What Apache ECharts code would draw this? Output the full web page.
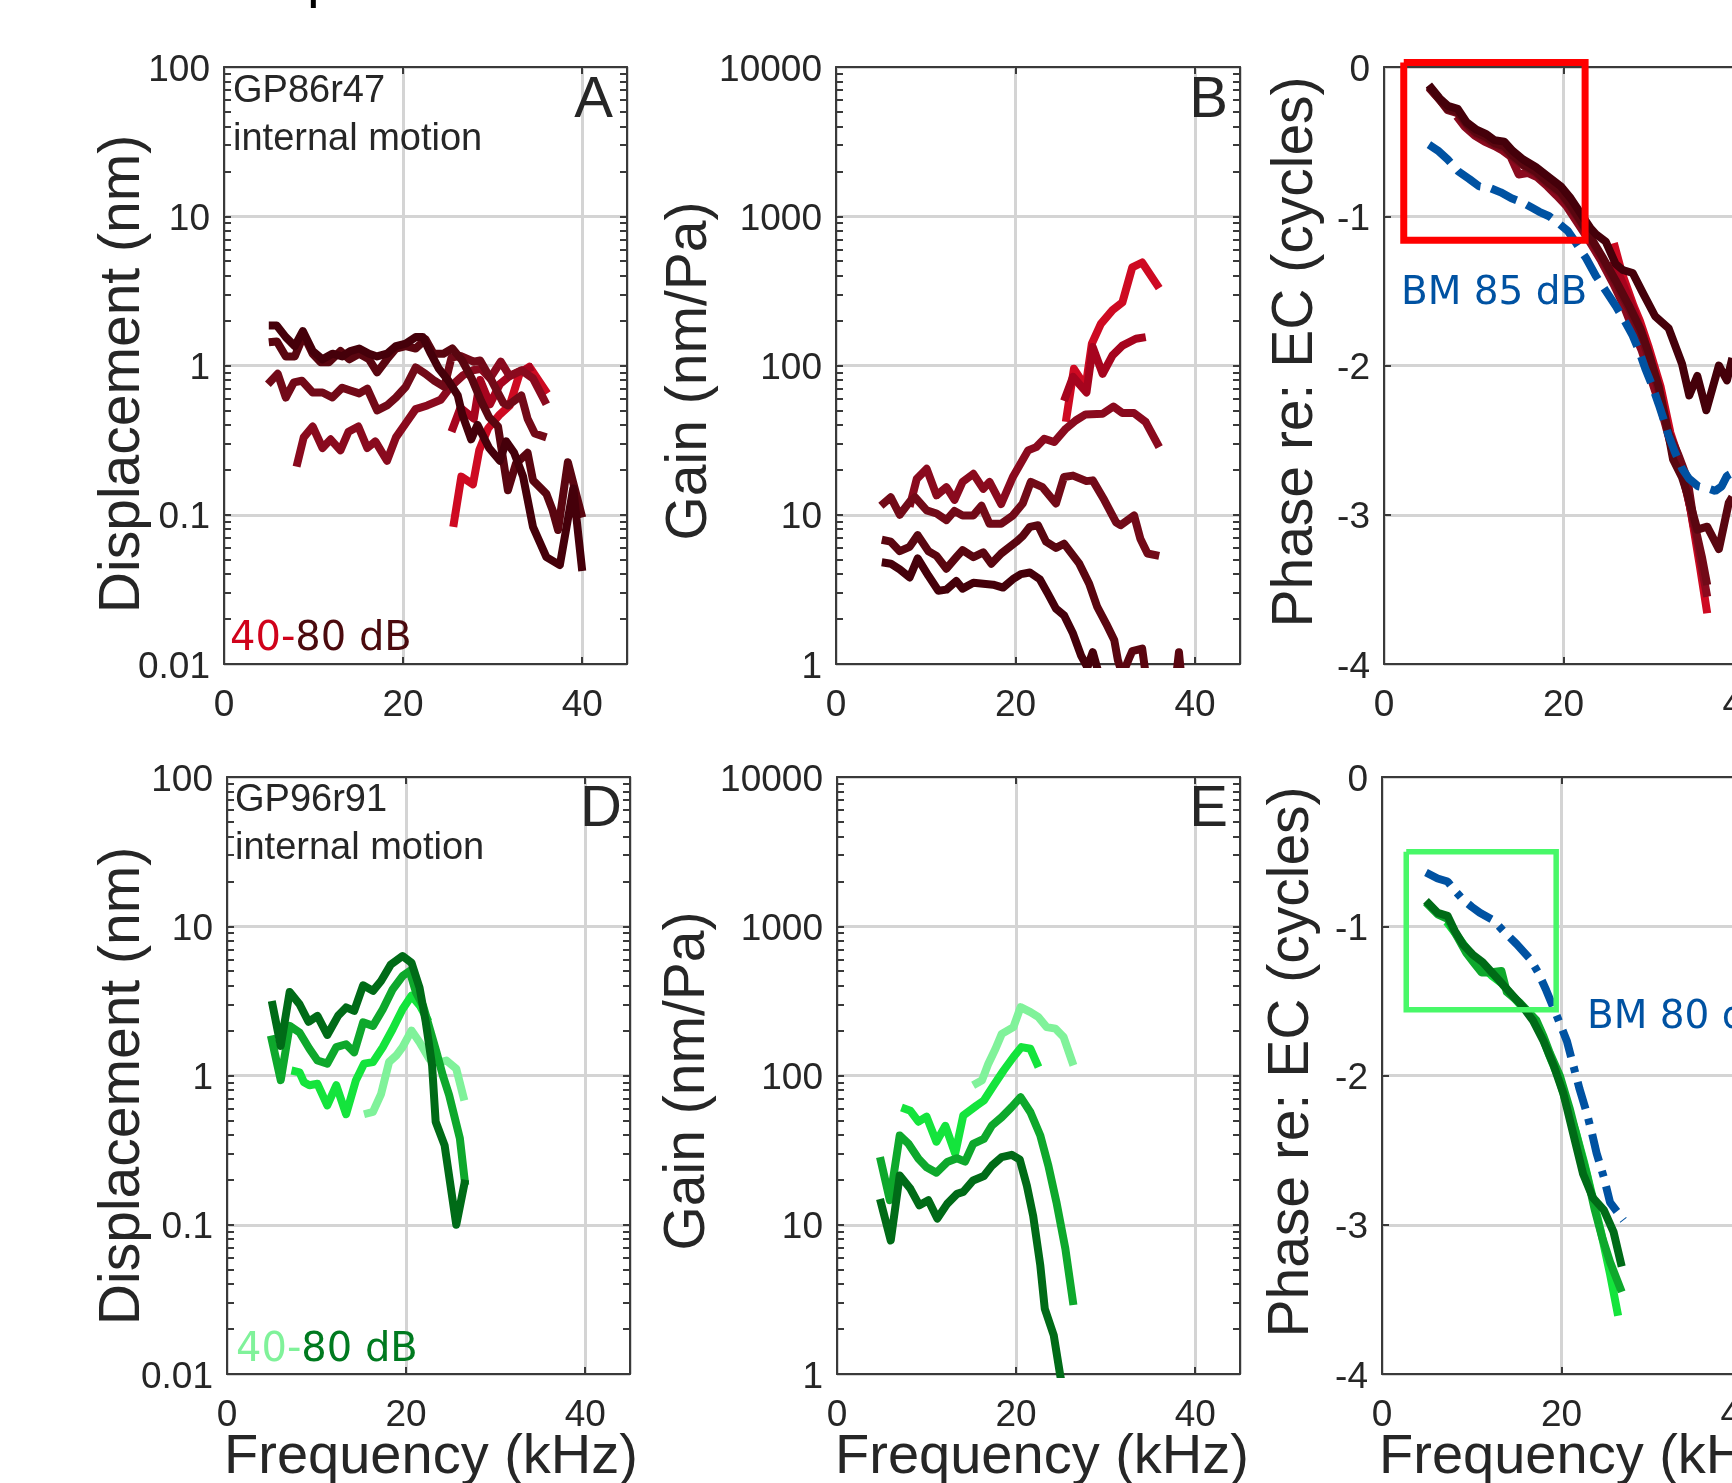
<!DOCTYPE html>
<html>
<head>
<meta charset="utf-8">
<title>Internal motion, gain and phase</title>
<script src="https://cdn.jsdelivr.net/npm/echarts@6/dist/echarts.min.js"></script>
<style>
  html, body { margin: 0; padding: 0; background: #ffffff; overflow: hidden; }
  /* the right-hand phase panels run past the page edge */
  #chart { width: 1800px; height: 1483px; }
</style>
</head>
<body>
<div id="chart"></div>
<script>
// ---------- tick labels ----------
const freqTicks = [0, 20, 40];
const dispTickLabels = ['0.01', '0.1', '1', '10', '100'];
const gainTickLabels = ['1', '10', '100', '1000', '10000'];
const phaseTickLabels = ['-4', '-3', '-2', '-1', '0'];

// ---------- GP86r47 : displacement (nm) vs frequency (kHz), lowest to highest level ----------
const dispA1 = [[25.6,0.083],[26.5,0.18],[27.8,0.16],[28.5,0.27],[29.5,0.38],[30.8,0.47],[31.9,0.54],[33.0,0.88],[34.1,0.98],[36.1,0.65]];
const dispA2 = [[25.4,0.36],[26.4,0.52],[27.9,0.44],[28.6,0.8],[29.7,0.55],[30.8,0.75],[31.9,0.85],[33.4,0.93],[34.5,0.98]];
const dispA3 = [[8.1,0.21],[8.9,0.33],[9.9,0.39],[11.0,0.28],[11.9,0.32],[13.0,0.27],[13.9,0.36],[15.0,0.39],[16.0,0.28],[16.9,0.31],[18.2,0.23],[19.2,0.33],[20.3,0.41],[21.4,0.51],[22.7,0.54],[24.2,0.59],[25.3,0.72],[26.7,0.86],[27.8,0.93],[28.7,0.95],[29.7,0.82],[30.9,1.06],[31.9,0.85],[33.2,0.93],[34.5,0.82],[36.0,0.55]];
const dispA4 = [[4.9,0.75],[6.0,0.88],[6.9,0.61],[7.8,0.77],[8.7,0.79],[9.9,0.66],[11.0,0.66],[12.1,0.61],[13.2,0.71],[14.1,0.68],[15.1,0.65],[16.0,0.70],[17.1,0.50],[18.2,0.54],[19.2,0.61],[20.3,0.72],[21.4,0.97],[22.5,0.88],[23.5,0.79],[24.6,0.72],[25.4,1.13],[26.4,1.16],[27.9,1.06],[28.6,1.08],[29.9,0.79],[31.2,0.56],[31.7,0.54],[33.2,0.63],[33.9,0.44],[34.7,0.35],[36.0,0.33]];
const dispA5 = [[5.0,1.43],[5.9,1.45],[6.9,1.15],[7.9,1.15],[8.9,1.6],[9.9,1.2],[10.8,1.05],[11.7,1.05],[13.0,1.25],[14.0,1.1],[15.1,1.2],[16.2,1.1],[17.1,0.9],[18.2,1.1],[19.2,1.3],[20.3,1.35],[21.4,1.3],[22.5,1.5],[23.4,1.2],[24.5,1.2],[25.5,1.3],[26.6,1.08],[27.7,0.81],[28.7,0.58],[29.6,0.45],[30.6,0.39],[31.7,0.146],[32.6,0.22],[33.9,0.26],[34.5,0.17],[36.0,0.138],[36.7,0.107],[37.3,0.079],[38.4,0.225],[40.0,0.096]];
const dispA6 = [[5.0,1.85],[5.9,1.85],[6.9,1.55],[7.9,1.35],[8.8,1.7],[9.9,1.25],[11.0,1.1],[12.1,1.2],[13.2,1.15],[14.1,1.25],[15.1,1.3],[16.2,1.2],[17.1,1.15],[18.2,1.2],[19.2,1.35],[20.3,1.4],[21.4,1.55],[22.2,1.55],[23.1,1.2],[24.0,0.95],[25.0,0.8],[26.1,0.63],[26.6,0.47],[27.6,0.32],[28.3,0.4],[29.6,0.28],[30.8,0.23],[31.5,0.31],[32.4,0.26],[33.4,0.18],[34.5,0.083],[36.0,0.052],[37.5,0.046],[39.0,0.15],[40.0,0.042]];

// ---------- GP86r47 : gain (nm/Pa) ----------
const gainB1 = [[25.6,42],[26.5,95],[27.8,72],[28.5,140],[29.5,190],[30.8,235],[31.9,265],[33.0,455],[34.1,490],[36.0,330]];
const gainB2 = [[25.4,58],[26.4,84],[27.9,66],[28.6,133],[29.7,88],[30.8,117],[31.9,136],[33.4,151],[34.5,155]];
const gainB3 = [[8.2,11.3],[9.0,17.4],[10.1,20.3],[11.2,13.5],[12.3,15.3],[13.2,12.6],[14.1,16.6],[15.3,18.8],[16.4,14.9],[17.1,16.6],[18.4,11.8],[19.7,17.9],[21.4,27.0],[22.3,28.4],[23.2,32.3],[24.3,30.7],[25.6,37.7],[26.7,42.8],[27.8,47.0],[29.7,47.5],[30.9,53.1],[31.9,48.0],[33.2,48.0],[34.5,41.8],[36.0,28.4]];
const gainB4 = [[5.0,11.5],[6.1,13.1],[7.1,10.0],[8.2,12.2],[8.8,13.1],[10.1,10.7],[11.2,10.2],[12.3,9.2],[13.2,10.6],[14.1,9.9],[15.3,9.9],[16.2,11.5],[17.1,8.7],[18.4,8.7],[19.7,9.9],[20.8,11.9],[21.7,16.6],[23.0,15.3],[24.5,11.9],[25.4,17.9],[26.4,18.3],[27.9,16.8],[28.6,17.0],[29.9,12.5],[31.2,8.9],[31.7,8.5],[33.2,9.9],[33.9,6.9],[34.7,5.5],[36.0,5.3]];
const gainB5 = [[5.1,6.8],[6.1,6.6],[7.1,5.7],[8.2,6.1],[9.1,7.3],[10.3,5.7],[11.2,5.3],[12.3,4.35],[13.4,5.2],[14.1,5.8],[15.3,5.2],[16.4,5.6],[17.3,4.7],[18.4,5.5],[20.1,6.6],[20.8,7.2],[21.6,8.3],[22.5,8.5],[23.4,6.6],[24.5,6.0],[25.4,6.4],[27.1,4.7],[28.2,3.45],[29.1,2.41],[30.1,1.86],[31.0,1.44],[31.4,1.06],[31.9,0.85],[32.7,1.11],[33.0,1.22],[34.1,1.27],[34.5,0.85],[36.0,0.69],[37.3,0.4],[38.2,1.2],[38.8,0.5]];
const gainB6 = [[5.1,4.8],[6.1,4.7],[7.1,4.3],[8.2,3.8],[9.1,5.1],[10.3,3.9],[11.4,3.1],[12.3,3.15],[13.4,3.6],[14.1,3.2],[15.3,3.5],[16.4,3.45],[17.5,3.4],[18.6,3.25],[19.7,3.7],[20.6,4.0],[21.6,4.1],[22.7,3.7],[23.6,2.96],[24.5,2.35],[25.4,2.12],[26.4,1.6],[27.3,1.14],[28.0,0.95],[28.6,1.2],[29.3,0.85],[30.0,0.6]];

// ---------- GP86r47 : phase re: EC (cycles) ----------
const phaseC1 = [[25.6,-1.18],[26.5,-1.38],[27.8,-1.6],[28.5,-1.7],[29.5,-1.88],[30.8,-2.14],[31.9,-2.45],[33.0,-2.65],[34.1,-2.95],[35.2,-3.35],[36.0,-3.66]];
const phaseC2 = [[25.4,-1.3],[26.4,-1.42],[27.9,-1.64],[28.6,-1.76],[29.7,-1.98],[30.8,-2.22],[31.9,-2.5],[33.4,-2.72],[34.5,-3.08]];
const phaseC3 = [[8.1,-0.33],[9.0,-0.4],[10.1,-0.46],[11.2,-0.5],[12.3,-0.53],[13.2,-0.56],[14.1,-0.6],[15.0,-0.72],[16.0,-0.71],[17.1,-0.74],[18.2,-0.8],[19.2,-0.86],[20.3,-0.93],[21.4,-1.03],[22.7,-1.15],[24.2,-1.3],[25.6,-1.46],[26.7,-1.6],[27.8,-1.77],[28.7,-1.9],[29.7,-2.08],[30.9,-2.3],[31.9,-2.52],[33.2,-2.72],[34.5,-3.05],[35.3,-3.32],[36.0,-3.55]];
const phaseC4 = [[5.0,-0.14],[6.2,-0.22],[7.1,-0.29],[8.2,-0.31],[9.2,-0.39],[10.3,-0.45],[11.4,-0.48],[12.3,-0.52],[13.4,-0.54],[14.3,-0.6],[15.5,-0.66],[16.9,-0.71],[18.4,-0.79],[19.7,-0.85],[20.8,-0.94],[21.9,-1.04],[23.0,-1.15],[24.3,-1.28],[25.8,-1.45],[27.3,-1.62],[28.6,-1.79],[29.5,-1.95],[30.6,-2.17],[31.5,-2.42],[32.8,-2.6],[33.8,-2.76],[34.5,-3.04],[35.4,-3.28],[36.0,-3.47]];
const phaseC5 = [[5.0,-0.13],[6.2,-0.22],[7.1,-0.28],[8.2,-0.3],[9.2,-0.38],[10.3,-0.44],[11.4,-0.47],[12.3,-0.51],[13.4,-0.53],[14.3,-0.59],[15.5,-0.65],[16.9,-0.7],[18.4,-0.78],[19.7,-0.84],[20.8,-0.93],[21.9,-1.03],[23.0,-1.14],[24.3,-1.27],[25.8,-1.43],[27.3,-1.6],[28.6,-1.76],[29.5,-1.92],[30.6,-2.14],[31.5,-2.4],[32.2,-2.63],[33.2,-2.75],[33.9,-2.88],[34.9,-3.1],[36.0,-3.08],[37.3,-3.23],[38.4,-2.92],[38.8,-2.88]];
const phaseC6 = [[5.0,-0.12],[6.2,-0.21],[7.1,-0.26],[8.2,-0.28],[9.2,-0.37],[10.3,-0.42],[11.4,-0.45],[12.3,-0.49],[13.4,-0.5],[14.3,-0.56],[15.5,-0.62],[16.9,-0.67],[18.4,-0.74],[19.7,-0.8],[20.8,-0.88],[21.9,-0.98],[23.0,-1.08],[23.6,-1.12],[24.7,-1.17],[25.8,-1.32],[26.6,-1.36],[27.7,-1.38],[28.8,-1.51],[30.2,-1.67],[31.7,-1.75],[33.2,-1.99],[34.0,-2.2],[34.9,-2.07],[35.9,-2.3],[37.3,-2.0],[38.2,-2.1],[38.8,-1.95]];
const phaseBM85 = [[5.0,-0.52],[6.0,-0.56],[7.1,-0.62],[8.3,-0.7],[9.5,-0.75],[10.6,-0.8],[11.8,-0.81],[13.0,-0.84],[14.2,-0.88],[15.5,-0.91],[16.4,-0.94],[17.3,-0.97],[18.4,-1.0],[19.5,-1.05],[20.5,-1.1],[21.4,-1.18],[22.5,-1.28],[23.6,-1.4],[24.7,-1.5],[25.8,-1.6],[26.8,-1.7],[27.7,-1.8],[28.4,-1.9],[29.1,-2.02],[29.9,-2.14],[30.6,-2.26],[31.2,-2.37],[31.7,-2.47],[32.4,-2.58],[33.2,-2.69],[34.0,-2.76],[35.0,-2.81],[35.9,-2.82],[36.9,-2.84],[37.6,-2.81],[38.2,-2.74],[38.8,-2.72]];
const boxC = [[2.2,0.03],[22.4,0.03],[22.4,-1.16],[2.2,-1.16],[2.2,0.03]];

// ---------- GP96r91 : displacement (nm) ----------
const dispD1 = [[15.3,0.55],[16.3,0.57],[17.2,0.75],[18.1,1.23],[18.9,1.36],[19.6,1.55],[20.6,2.0],[21.5,1.67],[22.6,1.29],[23.9,1.23],[24.5,1.26],[25.6,1.11],[26.5,0.68]];
const dispD2 = [[7.2,1.08],[8.1,1.05],[8.6,0.9],[9.2,0.86],[10.1,0.88],[11.2,0.63],[12.2,0.86],[13.3,0.55],[14.4,0.93],[15.3,1.2],[16.3,1.23],[17.4,1.55],[18.5,2.05],[19.6,2.78],[20.6,3.42],[21.6,2.9],[22.5,2.3]];
const dispD3 = [[4.9,1.85],[6.0,0.93],[7.0,2.15],[8.1,1.94],[9.2,1.51],[10.1,1.26],[11.2,1.2],[12.2,1.55],[13.3,1.62],[14.2,1.43],[15.2,2.27],[16.3,2.15],[17.4,2.78],[18.5,3.78],[19.6,4.64],[20.4,5.01],[21.1,3.6],[21.9,2.93],[22.7,2.0],[23.4,1.43],[24.1,1.0],[24.8,0.74],[26.0,0.38],[26.6,0.185]];
const dispD4 = [[5.0,3.16],[6.0,1.58],[7.0,3.63],[8.1,3.0],[9.1,2.29],[10.1,2.51],[11.2,1.87],[12.4,2.51],[13.3,2.86],[14.2,2.71],[15.2,4.02],[16.3,3.69],[17.2,4.3],[18.3,5.55],[19.6,6.31],[20.6,5.7],[21.5,3.88],[22.2,2.27],[22.9,1.17],[23.3,0.49],[24.3,0.34],[25.6,0.1],[26.6,0.2]];

// ---------- GP96r91 : gain (nm/Pa) ----------
const gainE1 = [[15.2,86],[16.2,93],[16.9,120],[17.7,151],[18.4,190],[19.7,211],[20.5,287],[21.6,266],[22.5,246],[23.4,211],[24.4,206],[25.3,181],[26.4,117]];
const gainE2 = [[7.2,61],[8.2,58],[9.1,49],[10.0,53],[11.1,36],[12.1,46],[13.2,30],[14.1,54],[15.6,63],[16.4,68],[17.5,86],[18.6,108],[19.7,133],[20.6,155],[21.6,151],[22.5,114]];
const gainE3 = [[4.8,28.4],[5.9,14.6],[7.0,39.6],[8.0,34.8],[9.1,27.7],[10.0,24.3],[11.1,22.3],[12.3,26.3],[13.4,27.9],[14.3,26.5],[15.2,34.8],[16.4,37.6],[17.3,46.2],[18.4,52.6],[19.5,61.4],[20.5,71.6],[21.6,56.7],[22.7,39.6],[23.6,24.9],[24.5,14.2],[25.5,6.9],[26.4,2.9]];
const gainE4 = [[4.8,14.9],[6.0,7.85],[7.0,21.4],[8.2,17.4],[9.2,13.5],[10.2,14.6],[11.2,11.0],[12.3,13.8],[13.4,16.1],[14.1,16.6],[15.2,19.8],[16.4,21.2],[17.3,24.9],[18.4,28.4],[19.5,29.4],[20.4,27.4],[21.2,18.3],[21.9,11.5],[22.7,5.35],[23.2,2.74],[24.2,1.82],[24.9,1.0],[25.2,0.8]];

// ---------- GP96r91 : phase re: EC (cycles) ----------
const phaseF2 = [[7.2,-0.97],[8.2,-1.05],[9.2,-1.13],[10.1,-1.2],[11.2,-1.27],[12.2,-1.33],[13.3,-1.38],[14.4,-1.46],[15.3,-1.52],[16.4,-1.58],[17.5,-1.68],[18.6,-1.86],[19.7,-2.02],[20.6,-2.2],[21.6,-2.38],[22.5,-2.58],[23.4,-2.8],[24.4,-3.05],[25.4,-3.33],[26.3,-3.61]];
const phaseF3 = [[4.9,-0.84],[6.2,-0.92],[7.3,-0.95],[8.1,-1.04],[9.4,-1.18],[10.3,-1.25],[11.1,-1.31],[12.0,-1.31],[13.3,-1.3],[13.9,-1.44],[15.3,-1.51],[16.4,-1.58],[17.2,-1.63],[18.0,-1.74],[18.7,-1.85],[19.8,-2.0],[20.9,-2.22],[22.0,-2.48],[22.8,-2.66],[23.7,-2.9],[24.5,-3.08],[25.4,-3.25],[26.7,-3.45]];
const phaseF4 = [[4.9,-0.83],[6.2,-0.91],[7.3,-0.93],[8.1,-1.03],[9.0,-1.12],[10.1,-1.19],[11.2,-1.24],[12.7,-1.34],[14.2,-1.44],[15.7,-1.54],[16.8,-1.63],[18.0,-1.77],[19.1,-1.93],[20.2,-2.12],[21.3,-2.39],[22.4,-2.66],[23.5,-2.82],[24.7,-2.9],[25.8,-3.05],[26.7,-3.28]];
const phaseBM80 = [[4.9,-0.64],[6.2,-0.68],[7.3,-0.7],[8.1,-0.76],[9.0,-0.82],[10.0,-0.87],[10.9,-0.91],[12.4,-0.96],[13.5,-1.03],[15.0,-1.12],[16.5,-1.22],[17.4,-1.31],[18.3,-1.43],[19.4,-1.59],[20.6,-1.77],[21.3,-1.93],[22.0,-2.09],[22.8,-2.25],[23.4,-2.39],[23.9,-2.52],[24.7,-2.68],[25.4,-2.85],[26.9,-2.97]];
const boxF = [[2.7,-0.5],[19.4,-0.5],[19.4,-1.56],[2.7,-1.56],[2.7,-0.5]];

// ---------- styling ----------
const FONT = '"Liberation Sans", Arial, Helvetica, sans-serif';
const FONT_V = '"DejaVu Sans", Verdana, sans-serif';
const TXT = '#262626';
const AXC = '#3a3a3a';
const GRIDC = '#d4d4d4';
const LW = 8;
const reds = ['#CE0A22', '#A6041E', '#8A0A1E', '#720A18', '#5A0610', '#45000A'];
const greens = ['#80F29A', '#14E43C', '#0EA82C', '#006B17'];
const BLUE = '#0052A2';

const grids = [
  { left: 224, top: 67, width: 403, height: 597 },   // displacement, GP86r47
  { left: 836, top: 67, width: 404, height: 597 },   // gain, GP86r47
  { left: 1384, top: 67, width: 404, height: 597 },  // phase, GP86r47
  { left: 227, top: 777, width: 403, height: 597 },  // displacement, GP96r91
  { left: 837, top: 777, width: 403, height: 597 },  // gain, GP96r91
  { left: 1382, top: 777, width: 404, height: 597 }  // phase, GP96r91
];

// tick positions in decade (exponent) units, majors and 2..9 minors
function decadeTicks(lo, hi) {
  const out = [];
  for (let d = lo; d < hi; d++) for (let k = 1; k < 10; k++) out.push(d + Math.log10(k));
  out.push(hi);
  return out;
}

const tickStyle = { show: true, inside: true, length: 7, lineStyle: { color: AXC, width: 2 } };
const lineAxis = { show: true, onZero: false, lineStyle: { color: AXC, width: 2 } };
const noLine = { show: false, onZero: false };
// a short line box hung from the tick drops the digits a few pixels below the tick
const yLabel = { show: true, fontSize: 37, fontFamily: FONT, color: TXT, margin: 14, verticalAlign: 'top', lineHeight: 7 };

const xAxes = [], yAxes = [];
grids.forEach((g, gi) => {
  xAxes.push({
    type: 'value', gridIndex: gi, position: 'bottom', min: 0, max: 45, interval: 20,
    axisLine: lineAxis, axisTick: tickStyle,
    axisLabel: { show: true, fontSize: 37, fontFamily: FONT, color: TXT, margin: 23, showMaxLabel: false,
                 formatter: v => (freqTicks.indexOf(v) >= 0 ? String(v) : '') },
    splitLine: { show: true, lineStyle: { color: GRIDC, width: 3 } }
  });
  xAxes.push({
    type: 'value', gridIndex: gi, position: 'top', min: 0, max: 45, interval: 20,
    axisLine: lineAxis, axisTick: tickStyle, axisLabel: { show: false }, splitLine: { show: false }
  });

  const kind = gi % 3; // 0 displacement, 1 gain, 2 phase
  if (kind < 2) {
    const lo = kind === 0 ? -2 : 0, hi = lo + 4;
    const labels = kind === 0 ? dispTickLabels : gainTickLabels;
    yAxes.push({
      type: 'log', logBase: 10, gridIndex: gi, position: 'left',
      min: Math.pow(10, lo), max: Math.pow(10, hi), splitNumber: 4,
      axisLine: lineAxis, axisTick: { show: false },
      axisLabel: Object.assign({}, yLabel, { formatter: v => labels[Math.round(Math.log10(v)) - lo] }),
      splitLine: { show: true, lineStyle: { color: GRIDC, width: 3 } }
    });
    const ticks = decadeTicks(lo, hi);
    yAxes.push({
      type: 'value', gridIndex: gi, position: 'left', min: lo, max: hi,
      axisLine: noLine, axisLabel: { show: false }, splitLine: { show: false },
      axisTick: Object.assign({}, tickStyle, { customValues: ticks })
    });
    yAxes.push({
      type: 'value', gridIndex: gi, position: 'right', min: lo, max: hi,
      axisLine: lineAxis, axisLabel: { show: false }, splitLine: { show: false },
      axisTick: Object.assign({}, tickStyle, { customValues: ticks })
    });
  } else {
    yAxes.push({
      type: 'value', gridIndex: gi, position: 'left', min: -4, max: 0, interval: 1,
      axisLine: lineAxis, axisTick: tickStyle,
      axisLabel: Object.assign({}, yLabel, { formatter: v => phaseTickLabels[Math.round(v) + 4] }),
      splitLine: { show: true, lineStyle: { color: GRIDC, width: 3 } }
    });
    yAxes.push({
      type: 'value', gridIndex: gi, position: 'left', min: -4, max: 0, interval: 1,
      axisLine: noLine, axisLabel: { show: false }, splitLine: { show: false }, axisTick: { show: false }
    });
    yAxes.push({
      type: 'value', gridIndex: gi, position: 'right', min: -4, max: 0, interval: 1,
      axisLine: lineAxis, axisLabel: { show: false }, splitLine: { show: false }, axisTick: tickStyle
    });
  }
});

function curve(data, color, gi, extra) {
  return Object.assign({
    type: 'line', data: data, xAxisIndex: 2 * gi, yAxisIndex: 3 * gi,
    showSymbol: false, symbol: 'none', silent: true, animation: false,
    lineStyle: { color: color, width: LW, cap: 'butt', join: 'round' }
  }, extra || {});
}

const series = [];
[dispA1, dispA2, dispA3, dispA4, dispA5, dispA6].forEach((d, i) => series.push(curve(d, reds[i], 0)));
[gainB1, gainB2, gainB3, gainB4, gainB5, gainB6].forEach((d, i) => series.push(curve(d, reds[i], 1)));
[phaseC1, phaseC2, phaseC3, phaseC4, phaseC5, phaseC6].forEach((d, i) => series.push(curve(d, reds[i], 2)));
series.push(curve(phaseBM85, BLUE, 2, { lineStyle: { color: BLUE, width: LW, type: [28, 11] } }));
series.push(curve(boxC, '#FF0000', 2, { clip: false, lineStyle: { color: '#FF0000', width: 7, join: 'miter' } }));
[dispD1, dispD2, dispD3, dispD4].forEach((d, i) => series.push(curve(d, greens[i], 3)));
[gainE1, gainE2, gainE3, gainE4].forEach((d, i) => series.push(curve(d, greens[i], 4)));
[phaseF2, phaseF3, phaseF4].forEach((d, i) => series.push(curve(d, greens[i + 1], 5)));
series.push(curve(phaseBM80, BLUE, 5, { lineStyle: { color: BLUE, width: LW, type: [28, 10, 6, 10] } }));
series.push(curve(boxF, '#48F868', 5, { clip: false, lineStyle: { color: '#48F868', width: 5.5, join: 'miter' } }));

function txt(x, y, text, font, fill, align, vAlign, rot) {
  return { type: 'text', x: x, y: y, z: 100, rotation: rot || 0, silent: true,
           style: { text: text, font: font, fill: fill, align: align || 'left', verticalAlign: vAlign || 'middle' } };
}
const V = Math.PI / 2;
const graphic = [
  txt(307, -20, 'p', '57px ' + FONT, '#000000'),
  // y titles
  txt(123, 374, 'Displacement (nm)', '57px ' + FONT, TXT, 'center', 'middle', V),
  txt(690, 371, 'Gain (nm/Pa)', '57px ' + FONT, TXT, 'center', 'middle', V),
  txt(1296, 352, 'Phase re: EC (cycles)', '57px ' + FONT, TXT, 'center', 'middle', V),
  txt(123, 1086, 'Displacement (nm)', '57px ' + FONT, TXT, 'center', 'middle', V),
  txt(688, 1081, 'Gain (nm/Pa)', '57px ' + FONT, TXT, 'center', 'middle', V),
  txt(1292, 1062, 'Phase re: EC (cycles)', '57px ' + FONT, TXT, 'center', 'middle', V),
  // x titles
  txt(431, 1458, 'Frequency (kHz)', '56px ' + FONT, TXT, 'center'),
  txt(1042, 1458, 'Frequency (kHz)', '56px ' + FONT, TXT, 'center'),
  txt(1586, 1458, 'Frequency (kHz)', '56px ' + FONT, TXT, 'center'),
  // panel letters
  txt(613, 101, 'A', '58px ' + FONT, TXT, 'right'),
  txt(1228, 101, 'B', '58px ' + FONT, TXT, 'right'),
  txt(622, 810, 'D', '58px ' + FONT, TXT, 'right'),
  txt(1228, 810, 'E', '58px ' + FONT, TXT, 'right'),
  // preparation notes
  txt(233, 92, 'GP86r47', '38px ' + FONT, TXT),
  txt(233, 140, 'internal motion', '38px ' + FONT, TXT),
  txt(235, 801, 'GP96r91', '38px ' + FONT, TXT),
  txt(235, 849, 'internal motion', '38px ' + FONT, TXT),
  // level ranges
  { type: 'text', x: 230, y: 640, z: 100, silent: true,
    style: { text: '{a|40-}{b|80 dB}', verticalAlign: 'middle', font: '40px ' + FONT_V,
             rich: { a: { fill: '#D0021B', fontSize: 40, fontFamily: FONT_V },
                     b: { fill: '#4B0A0E', fontSize: 40, fontFamily: FONT_V } } } },
  { type: 'text', x: 236, y: 1351, z: 100, silent: true,
    style: { text: '{a|40-}{b|80 dB}', verticalAlign: 'middle', font: '40px ' + FONT_V,
             rich: { a: { fill: '#80F29A', fontSize: 40, fontFamily: FONT_V },
                     b: { fill: '#007A1F', fontSize: 40, fontFamily: FONT_V } } } },
  // basilar membrane references
  txt(1401, 294, 'BM 85 dB', '39px ' + FONT_V, BLUE),
  txt(1587, 1018, 'BM 80 dB', '39px ' + FONT_V, BLUE)
];

const chart = echarts.init(document.getElementById('chart'), null, { renderer: 'canvas' });
chart.setOption({
  backgroundColor: '#ffffff',
  animation: false,
  grid: grids.map(g => Object.assign({ show: false, containLabel: false }, g)),
  xAxis: xAxes,
  yAxis: yAxes,
  series: series,
  graphic: graphic
});
</script>
</body>
</html>
